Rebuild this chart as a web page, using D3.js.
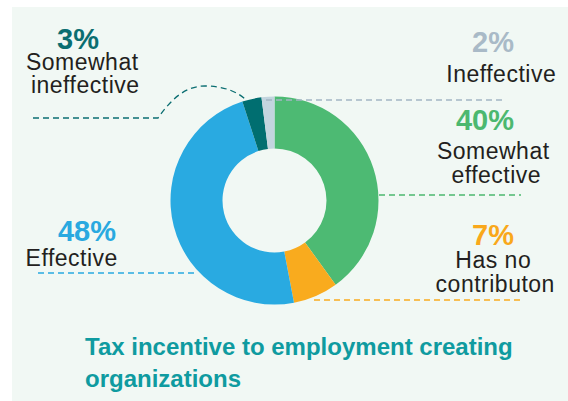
<!DOCTYPE html>
<html>
<head>
<meta charset="utf-8">
<script src="https://cdn.jsdelivr.net/npm/d3@7"></script>
<style>
  html, body { margin: 0; padding: 0; background: #ffffff; }
  svg { display: block; }
  text { font-family: "Liberation Sans", Arial, Helvetica, sans-serif; }
</style>
</head>
<body>
<svg id="chart" width="568" height="401"></svg>
<script>
// ---- data ----
const categories = ["Somewhat effective", "Has no contributon", "Effective", "Somewhat ineffective", "Ineffective"];
const values = [40, 7, 48, 3, 2];
const labelLines = [["Somewhat", "effective"], ["Has no", "contributon"], ["Effective"], ["Somewhat", "ineffective"], ["Ineffective"]];
const titleLines = ["Tax incentive to employment creating", "organizations"];

// ---- styles ----
const sliceColors = ["#4dba73", "#f9ab1e", "#29aae1", "#006e70", "#c3d5df"];
const pctColors = ["#4cb86f", "#f9a81b", "#29a9e0", "#0b6e71", "#a9bac7"];
const lineColors = ["#4cb86f", "#f9ab1e", "#29a9e0", "#0b6e71", "#a3b5c3"];

const svg = d3.select("#chart");
svg.append("rect").attr("x", 12).attr("y", 7).attr("width", 556).attr("height", 394).attr("fill", "#f1f8f4");

const cx = 274.5, cy = 200.5, rOuter = 104, rInner = 52;
const pie = d3.pie().sort(null).value(d => d)(values);
const arc = d3.arc().innerRadius(rInner).outerRadius(rOuter);

const g = svg.append("g").attr("transform", `translate(${cx},${cy})`);
g.selectAll("path").data(pie).join("path")
  .attr("d", arc)
  .attr("fill", (d, i) => sliceColors[i]);

// leader lines (layout)
const leaders = [
  "M379,195 H521",
  "M314,300 H522",
  "M38,273 H197",
  "M33,118 H158 C172,98 186,86 205,86 C224,86 238,92 246,100",
  "M266,100 H506"
];
svg.append("g").selectAll("path").data(leaders).join("path")
  .attr("d", d => d)
  .attr("fill", "none")
  .attr("stroke", (d, i) => lineColors[i])
  .attr("stroke-width", 1.3)
  .attr("stroke-dasharray", "6,4");

// label layout
const labelPos = [
  {px: 485, py: 130, lx: [493, 496], ly: [159, 183]},
  {px: 493, py: 245, lx: [493, 495], ly: [268, 292]},
  {px: 87,  py: 241, lx: [71.5], ly: [266]},
  {px: 78,  py: 49,  lx: [82, 85], ly: [69.5, 93]},
  {px: 493, py: 52,  lx: [501], ly: [82]}
];

const lab = svg.append("g");
values.forEach((v, i) => {
  const p = labelPos[i];
  lab.append("text")
    .attr("x", p.px).attr("y", p.py)
    .attr("text-anchor", "middle")
    .attr("font-size", 29).attr("font-weight", "bold")
    .attr("fill", pctColors[i])
    .text(v + "%");
  labelLines[i].forEach((t, j) => {
    lab.append("text")
      .attr("x", p.lx[j] + 0.25).attr("y", p.ly[j])
      .attr("text-anchor", "middle")
      .attr("font-size", 23)
      .attr("letter-spacing", 0.5)
      .attr("fill", "#231f20")
      .text(t);
  });
});

// title
svg.append("g").selectAll("text").data(titleLines).join("text")
  .attr("x", 85).attr("y", (d, i) => 355 + i * 32)
  .attr("font-size", 24).attr("font-weight", "bold")
  .attr("fill", "#0f9ba0")
  .text(d => d);
</script>
</body>
</html>
